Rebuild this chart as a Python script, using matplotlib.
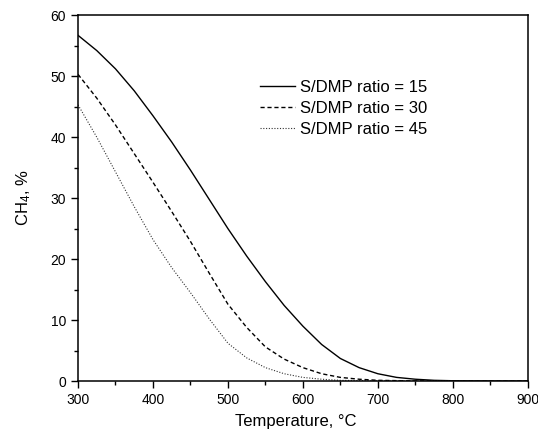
import numpy as np
import matplotlib
matplotlib.use('Agg')
import matplotlib.pyplot as plt
from matplotlib.ticker import MultipleLocator

plt.rcParams['font.family'] = ['Liberation Sans', 'DejaVu Sans']
plt.rcParams['mathtext.default'] = 'regular'

# values
temp_15 = [300, 325, 350, 375, 400, 425, 450, 475, 500, 525, 550, 575, 600, 625, 650, 675, 700, 725, 750, 775, 800, 850, 900]
ch4_15 = [56.7, 54.2, 51.2, 47.6, 43.5, 39.2, 34.6, 29.8, 25.0, 20.5, 16.3, 12.4, 9.0, 6.0, 3.7, 2.2, 1.2, 0.6, 0.3, 0.12, 0.05, 0.01, 0.0]

temp_30 = [300, 325, 350, 375, 400, 425, 450, 475, 500, 525, 550, 575, 600, 625, 650, 675, 700, 750, 800, 900]
ch4_30 = [50.3, 46.4, 42.0, 37.3, 32.6, 27.8, 22.9, 17.7, 12.6, 8.8, 5.6, 3.6, 2.2, 1.2, 0.6, 0.3, 0.12, 0.02, 0.0, 0.0]

temp_45 = [300, 325, 350, 375, 400, 425, 450, 475, 500, 525, 550, 575, 600, 625, 650, 700, 800, 900]
ch4_45 = [45.3, 40.0, 34.3, 28.6, 23.2, 18.6, 14.5, 10.2, 6.2, 3.8, 2.2, 1.2, 0.6, 0.3, 0.12, 0.03, 0.0, 0.0]

labels = ['S/DMP ratio = 15', 'S/DMP ratio = 30', 'S/DMP ratio = 45']

fig = plt.figure(figsize=(5.38, 4.34), dpi=100)
ax = fig.add_axes([0.145, 0.122, 0.836, 0.843])

ax.plot(temp_15, ch4_15, color='black', lw=1.0, ls='-', label=labels[0])
ax.plot(temp_30, ch4_30, color='black', lw=1.0, ls=(0, (3, 2)), label=labels[1])
ax.plot(temp_45, ch4_45, color='#333333', lw=0.8, ls=(0, (1, 1.5)), label=labels[2])

ax.set_xlim(300, 900)
ax.set_ylim(0, 60)
ax.xaxis.set_major_locator(MultipleLocator(100))
ax.xaxis.set_minor_locator(MultipleLocator(50))
ax.yaxis.set_major_locator(MultipleLocator(10))
ax.yaxis.set_minor_locator(MultipleLocator(5))
ax.tick_params(which='both', direction='out', top=False, right=False, labelsize=10, width=1)
ax.tick_params(which='major', length=5)
ax.tick_params(which='minor', length=3)
for sp in ax.spines.values():
    sp.set_linewidth(1.1)

ax.set_xlabel('Temperature, °C', fontsize=12)
ax.xaxis.set_label_coords(0.485, -0.09)
ax.set_ylabel('CH$_4$, %', fontsize=12)
ax.yaxis.set_label_coords(-0.1, 0.5)

ax.legend(loc='upper left', bbox_to_anchor=(0.404, 0.824), frameon=False, fontsize=12,
          handlelength=2.1, handletextpad=0.3, labelspacing=0.36, borderpad=0, borderaxespad=0)

fig.savefig('out.png', dpi=100)
